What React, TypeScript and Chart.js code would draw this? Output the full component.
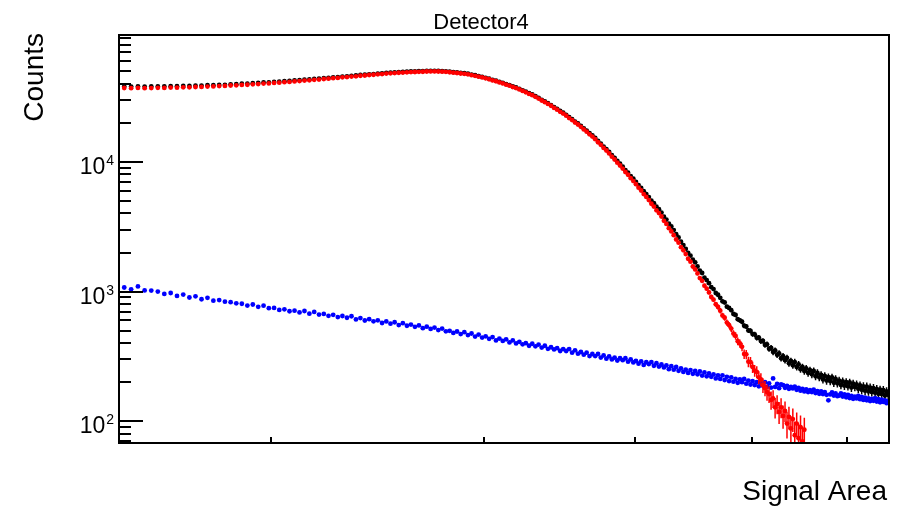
import React, { useEffect, useRef } from "react";
import { Chart, registerables } from "chart.js";

Chart.register(...registerables);

const TITLE = "Detector4";
const X_TITLE = "Signal Area";
const Y_TITLE = "Counts";

const X_MIN = 1.495;
const X_MAX = 6.5;
const Y_MIN = 68;
const Y_MAX = 95000;

// histogram binning (bin centres = categories of the x axis)
const BIN_START = 1.5;
const BIN_WIDTH = 0.02;

const X_TICKS = [2, 3, 4, 5, 6];
const Y_MAJOR = [100, 1000, 10000];
const Y_MAJOR_EXP = ["2", "3", "4"];
const Y_MINOR = [
  70, 80, 90, 200, 300, 400, 500, 600, 700, 800, 900, 2000, 3000, 4000, 5000,
  6000, 7000, 8000, 9000, 20000, 30000, 40000, 50000, 60000, 70000, 80000, 90000,
];

// total (black)
const BLACK = [
  38100, 38020, 38150, 38040, 38090, 38130, 38120, 38300, 38260, 38470,
  38430, 38640, 38700, 38930, 38990, 39190, 39260, 39600, 39670, 40010,
  40060, 40370, 40530, 40870, 41030, 41310, 41510, 41870, 42050, 42410,
  42600, 42970, 43200, 43580, 43780, 44140, 44380, 44790, 45040, 45450,
  45620, 46060, 46280, 46690, 46910, 47290, 47500, 47880, 48100, 48480,
  48720, 48850, 49170, 49270, 49570, 49730, 49800, 49980, 50030, 50220,
  50300, 50260, 50230, 50020, 49890, 49540, 49120, 48890, 48430, 48190,
  47750, 47070, 46500, 45770, 45200, 44440, 43720, 42890, 42240, 41380,
  40660, 39770, 39060, 38160, 37470, 36540, 35600, 34740, 33800, 33040,
  32080, 31120, 30080, 29230, 28330, 27410, 26420, 25600, 24660, 23910,
  23050, 22090, 21330, 20450, 19740, 18930, 18110, 17410, 16630, 15980,
  15270, 14470, 13830, 13120, 12550, 11910, 11250, 10730, 10150, 9680,
  9170, 8640, 8250, 7770, 7410, 7000, 6620, 6290, 5930, 5640,
  5350, 5020, 4800, 4510, 4310, 4060, 3780, 3590, 3340, 3180,
  2980, 2770, 2610, 2420, 2280, 2130, 1990, 1890, 1760, 1680,
  1560, 1450, 1390, 1280, 1225, 1160, 1080, 1045, 975, 945,
  895, 840, 825, 765, 748, 718, 672, 660, 612, 600,
  585, 545, 538, 502, 498, 470, 468, 440, 442, 415,
  416, 388, 392, 362, 368, 342, 352, 325, 334, 306,
  318, 296, 308, 280, 292, 270, 286, 262, 275, 252,
  262, 244, 256, 236, 248, 230, 244, 222, 236, 218,
  228, 210, 224, 206, 219, 204, 218, 198, 212, 196,
  206, 190, 203, 188, 200, 186, 199, 182, 195, 184,
  192, 178, 189, 175, 186, 172, 185, 170, 182, 168,
  180, 166, 177, 163, 175, 162, 174, 158, 170, 160,
];

// signal (red)
const RED = [
  37080, 36950, 37120, 36990, 37060, 37180, 37150, 37350, 37290, 37520,
  37530, 37760, 37800, 38050, 38100, 38350, 38440, 38760, 38850, 39170,
  39280, 39610, 39750, 40110, 40250, 40600, 40780, 41150, 41320, 41700,
  41900, 42300, 42500, 42900, 43100, 43500, 43720, 44150, 44380, 44800,
  45000, 45450, 45650, 46080, 46300, 46700, 46900, 47300, 47500, 47900,
  48150, 48300, 48600, 48720, 49000, 49200, 49250, 49450, 49500, 49680,
  49780, 49760, 49720, 49520, 49380, 49050, 48650, 48400, 47950, 47700,
  47300, 46600, 46050, 45300, 44750, 44000, 43300, 42450, 41800, 40950,
  40250, 39350, 38650, 37750, 37050, 36150, 35200, 34350, 33400, 32650,
  31700, 30750, 29700, 28850, 27950, 27050, 26050, 25250, 24300, 23550,
  22700, 21750, 20980, 20100, 19400, 18600, 17780, 17080, 16300, 15650,
  14950, 14150, 13520, 12800, 12230, 11600, 10950, 10420, 9850, 9370,
  8870, 8350, 7950, 7480, 7110, 6720, 6320, 6010, 5640, 5360,
  5070, 4750, 4520, 4230, 4030, 3790, 3510, 3320, 3080, 2910,
  2720, 2520, 2380, 2200, 2080, 1945, 1790, 1700, 1560, 1480,
  1380, 1270, 1210, 1110, 1052, 985, 908, 866, 798, 760,
  712, 655, 628, 577, 552, 518, 474, 455, 414, 398,
  375, 330, 328, 288, 286, 262, 246, 240, 218, 210,
  190, 180, 168, 162, 146, 150, 128, 136, 118, 128,
  110, 120, 96, 108, 88, 104, 78, 96, 74, 90,
  70, 86,
];

// background (blue)
const BLUE = [
  1075, 1040, 1095, 1020, 1018, 1000, 958, 975, 925, 948,
  900, 918, 872, 895, 850, 860, 835, 828, 812, 805,
  780, 795, 762, 778, 745, 748, 722, 730, 705, 712,
  690, 708, 675, 696, 665, 672, 650, 662, 636, 648,
  628, 645, 610, 625, 598, 612, 590, 600, 572, 588,
  565, 580, 552, 570, 545, 556, 535, 548, 522, 536,
  515, 528, 505, 518, 494, 498, 480, 492, 470, 486,
  462, 475, 450, 466, 442, 452, 432, 446, 420, 434,
  416, 428, 405, 420, 398, 410, 392, 400, 382, 396,
  378, 390, 370, 382, 362, 372, 358, 366, 348, 360,
  348, 360, 338, 352, 332, 342, 326, 338, 318, 330,
  318, 330, 310, 322, 304, 316, 300, 310, 294, 306,
  296, 306, 288, 300, 284, 292, 278, 290, 272, 285,
  276, 286, 268, 280, 264, 274, 260, 270, 252, 266,
  250, 262, 245, 256, 240, 250, 236, 248, 232, 244,
  230, 242, 225, 238, 222, 234, 220, 230, 214, 226,
  212, 226, 208, 220, 204, 218, 202, 212, 198, 210,
  200, 212, 195, 206, 192, 204, 190, 200, 186, 198,
  188, 200, 184, 196, 182, 214, 184, 194, 180, 192,
  190, 181, 187, 178, 184, 179, 185, 175, 181, 172,
  178, 170, 176, 168, 174, 168, 175, 165, 171, 163,
  170, 162, 168, 160, 145, 161, 167, 158, 164, 156,
  158, 164, 155, 161, 153, 160, 151, 157, 149, 155,
  150, 157, 148, 154, 146, 152, 145, 150, 143, 149,
  144, 151, 142, 148, 140, 147, 141, 145, 138, 143,
];

const FONT = "'Liberation Sans', Arial, Helvetica, sans-serif";

const binCentre = (i: number) => BIN_START + BIN_WIDTH * (i + 0.5);
const toPoints = (vals: number[]) => vals.map((v, i) => ({ x: binCentre(i), y: v }));

const rootStyle = {
  id: "rootStyle",
  beforeDatasetDraw(chart: any, args: any) {
    const ds = chart.data.datasets[args.index];
    const errs: number[] | undefined = ds.errors;
    if (!errs) return;
    const { ctx, chartArea: a } = chart;
    const xs = chart.scales.x;
    const ys = chart.scales.y;
    ctx.save();
    ctx.beginPath();
    ctx.rect(a.left, a.top, a.right - a.left, a.bottom - a.top);
    ctx.clip();
    ctx.strokeStyle = ds.pointBackgroundColor;
    ctx.lineWidth = 1.5;
    ctx.beginPath();
    ds.data.forEach((p: any, i: number) => {
      const e = errs[i];
      if (!e) return;
      const px = xs.getPixelForValue(p.x);
      const lo = Math.max(p.y - e, Y_MIN * 0.5);
      ctx.moveTo(px, ys.getPixelForValue(p.y + e));
      ctx.lineTo(px, ys.getPixelForValue(lo));
    });
    ctx.stroke();
    ctx.restore();
  },
  afterDraw(chart: any) {
    const { ctx, chartArea: a } = chart;
    const xs = chart.scales.x;
    const ys = chart.scales.y;
    ctx.save();
    ctx.strokeStyle = "#000";
    ctx.lineWidth = 2;
    ctx.strokeRect(a.left, a.top, a.right - a.left, a.bottom - a.top);
    ctx.beginPath();
    Y_MAJOR.forEach((v) => {
      const py = Math.round(ys.getPixelForValue(v));
      ctx.moveTo(a.left, py);
      ctx.lineTo(a.left + 24, py);
    });
    Y_MINOR.forEach((v) => {
      const py = Math.round(ys.getPixelForValue(v));
      ctx.moveTo(a.left, py);
      ctx.lineTo(a.left + 12, py);
    });
    X_TICKS.forEach((v) => {
      const px = Math.round(xs.getPixelForValue(v));
      ctx.moveTo(px, a.bottom);
      ctx.lineTo(px, a.bottom - 6);
    });
    ctx.stroke();

    ctx.fillStyle = "#000";
    ctx.textBaseline = "alphabetic";
    Y_MAJOR.forEach((v, i) => {
      const py = ys.getPixelForValue(v);
      ctx.font = `14px ${FONT}`;
      ctx.textAlign = "right";
      const exp = Y_MAJOR_EXP[i];
      const w = ctx.measureText(exp).width;
      ctx.fillText(exp, a.left - 5, py + 3);
      ctx.font = `23px ${FONT}`;
      ctx.fillText("10", a.left - 6 - w, py + 12);
    });

    ctx.font = `22px ${FONT}`;
    ctx.textAlign = "center";
    ctx.fillText(TITLE, 481, 29);

    ctx.font = `28px ${FONT}`;
    ctx.textAlign = "right";
    ctx.fillText(X_TITLE, 887, 500);

    ctx.translate(43, 33);
    ctx.rotate(-Math.PI / 2);
    ctx.textAlign = "right";
    ctx.fillText(Y_TITLE, 0, 0);
    ctx.restore();
  },
};

export default function App() {
  const ref = useRef<HTMLCanvasElement>(null);
  useEffect(() => {
    document.body.style.margin = "0";
    const canvas = ref.current;
    if (!canvas) return;
    const chart = new Chart(canvas, {
      type: "scatter",
      data: {
        datasets: [
          {
            label: "signal",
            data: toPoints(RED),
            pointBackgroundColor: "#ff0000",
            pointBorderColor: "#ff0000",
            errors: RED.map((_, i) => Math.sqrt(BLACK[i] + BLUE[i])),
          } as any,
          {
            label: "background",
            data: toPoints(BLUE),
            pointBackgroundColor: "#0000ff",
            pointBorderColor: "#0000ff",
          } as any,
          {
            label: "total",
            data: toPoints(BLACK),
            pointBackgroundColor: "#000000",
            pointBorderColor: "#000000",
            errors: BLACK.map((v) => Math.sqrt(v)),
          } as any,
        ],
      },
      options: {
        animation: false,
        responsive: false,
        devicePixelRatio: 1,
        layout: { padding: { left: 119, right: 16, top: 35, bottom: 63 } },
        elements: { point: { radius: 2.4, borderWidth: 0, hoverRadius: 2.4 } },
        scales: {
          x: { type: "logarithmic", min: X_MIN, max: X_MAX, display: false },
          y: { type: "logarithmic", min: Y_MIN, max: Y_MAX, display: false },
        },
        plugins: {
          legend: { display: false },
          tooltip: { enabled: false },
          title: { display: false },
        },
        events: [],
      },
      plugins: [rootStyle],
    });
    return () => chart.destroy();
  }, []);
  return (
    <div style={{ position: "relative", width: 905, height: 506, background: "#fff" }}>
      <canvas ref={ref} width={905} height={506} style={{ display: "block" }} />
    </div>
  );
}
